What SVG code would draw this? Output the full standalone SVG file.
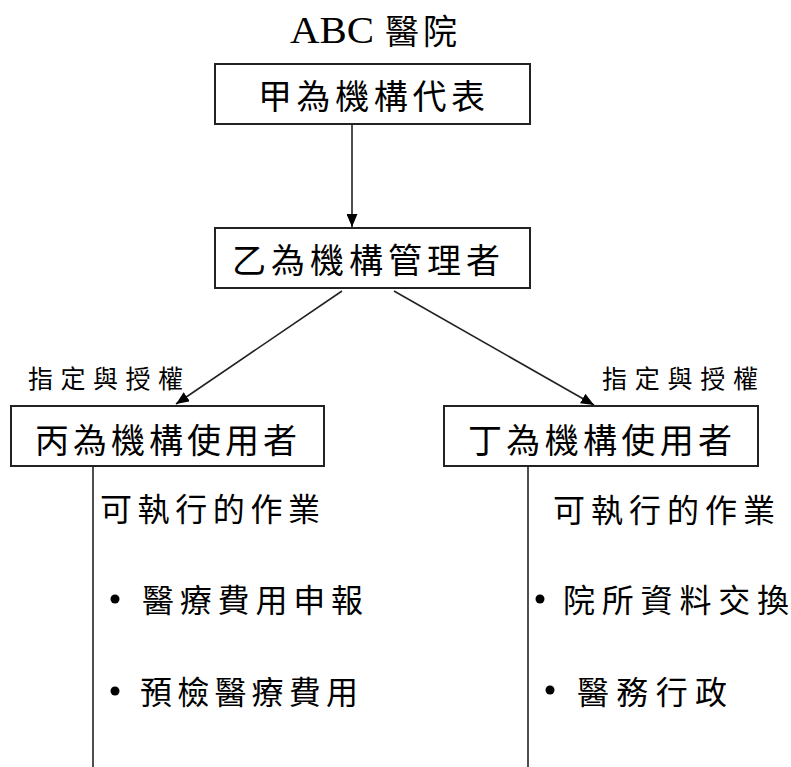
<svg xmlns="http://www.w3.org/2000/svg" width="791" height="767" viewBox="0 0 791 767">
<style>
.box{fill:#fff;stroke:#222;stroke-width:2}
.t{font-family:"Liberation Serif","Noto Sans CJK TC",serif;fill:#000}
.c{font-family:"Noto Sans CJK TC","Liberation Serif",serif;fill:#000;font-weight:400}
.ln{stroke:#222;stroke-width:1.6;fill:none}
</style>
<defs>
<marker id="ah" viewBox="0 0 13 11" refX="13" refY="5.5" markerWidth="13" markerHeight="11" markerUnits="userSpaceOnUse" orient="auto">
<path d="M0,0 L13,5.5 L0,11 Z" fill="#000"/>
</marker>
</defs>
<g id="title">
<text class="t" x="290" y="43" font-size="37" textLength="84" lengthAdjust="spacingAndGlyphs">ABC</text>
<text class="c" x="385" y="44" font-size="34" textLength="72" lengthAdjust="spacing">醫院</text>
</g>
<g id="connectors">
<line class="ln" x1="352" y1="125" x2="352" y2="227" marker-end="url(#ah)"/>
<line class="ln" x1="342" y1="291" x2="176" y2="404" marker-end="url(#ah)"/>
<line class="ln" x1="394" y1="291" x2="594" y2="405" marker-end="url(#ah)"/>
<line class="ln" x1="93" y1="466" x2="93" y2="767"/>
<line class="ln" x1="528" y1="466" x2="528" y2="767"/>
</g>
<g id="n1">
<rect class="box" x="215" y="64" width="315" height="60"/>
<text class="c" x="258" y="109" font-size="34" textLength="227" lengthAdjust="spacing">甲為機構代表</text>
</g>
<g id="n2">
<rect class="box" x="215" y="228" width="315" height="60"/>
<text class="c" x="232" y="273" font-size="34" textLength="268" lengthAdjust="spacing">乙為機構管理者</text>
</g>
<g id="n3">
<rect class="box" x="11" y="406" width="313" height="60"/>
<text class="c" x="35" y="453" font-size="34" textLength="262" lengthAdjust="spacing">丙為機構使用者</text>
</g>
<g id="n4">
<rect class="box" x="444" y="406" width="314" height="60"/>
<text class="c" x="468" y="453" font-size="34" textLength="264" lengthAdjust="spacing">丁為機構使用者</text>
</g>
<g id="labels">
<text class="c" x="28" y="388" font-size="25" textLength="155" lengthAdjust="spacing">指定與授權</text>
<text class="c" x="602" y="388" font-size="25" textLength="156" lengthAdjust="spacing">指定與授權</text>
</g>
<g id="left-tasks">
<text class="c" x="100" y="521" font-size="32" textLength="220" lengthAdjust="spacing">可執行的作業</text>
<circle cx="115" cy="599" r="4.5" fill="#000"/>
<text class="c" x="142" y="612" font-size="32" textLength="221" lengthAdjust="spacing">醫療費用申報</text>
<circle cx="115" cy="691" r="4.5" fill="#000"/>
<text class="c" x="140" y="704" font-size="32" textLength="218" lengthAdjust="spacing">預檢醫療費用</text>
</g>
<g id="right-tasks">
<text class="c" x="553" y="522" font-size="32" textLength="222" lengthAdjust="spacing">可執行的作業</text>
<circle cx="540" cy="599" r="4.5" fill="#000"/>
<text class="c" x="563" y="612" font-size="32" textLength="226" lengthAdjust="spacing">院所資料交換</text>
<circle cx="550" cy="690" r="4.5" fill="#000"/>
<text class="c" x="577" y="704" font-size="32" textLength="150" lengthAdjust="spacing">醫務行政</text>
</g>
</svg>
